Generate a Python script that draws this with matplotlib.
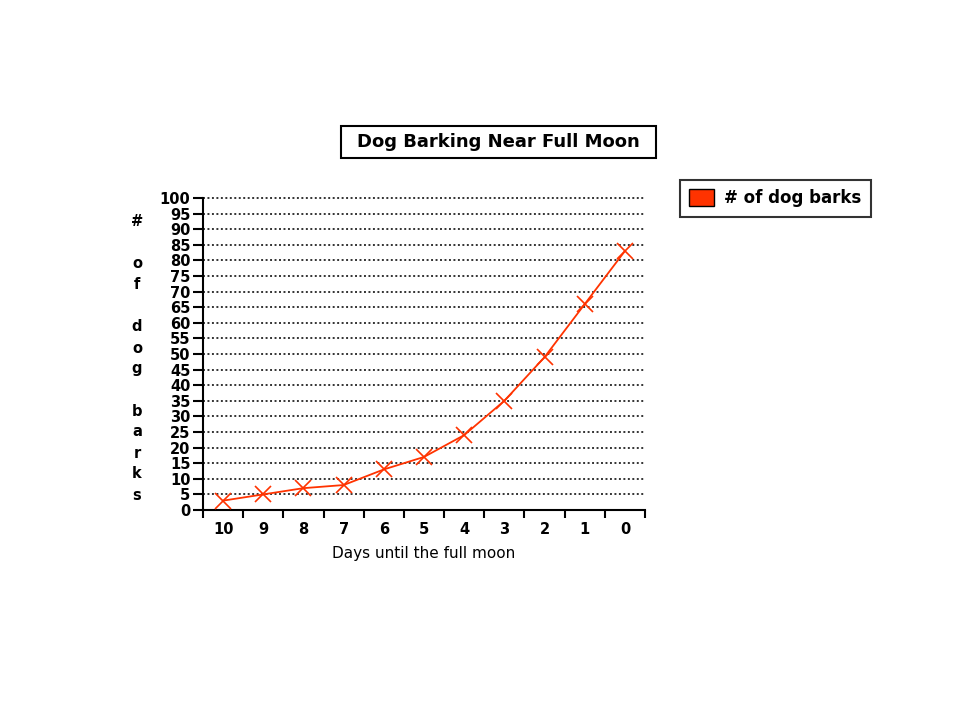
import matplotlib
matplotlib.use("Agg")
import matplotlib.pyplot as plt
from matplotlib.patches import Patch, Rectangle

days = ["10", "9", "8", "7", "6", "5", "4", "3", "2", "1", "0"]
barks = [3, 5, 7, 8, 13, 17, 24, 35, 49, 66, 83]
yticks = list(range(0, 101, 5))

title = "Dog Barking Near Full Moon"
xlabel = "Days until the full moon"
ylabel_chars = ["#", "", "o", "f", "", "d", "o", "g", "", "b", "a", "r", "k", "s"]
series_name = "# of dog barks"

red = "#FF3300"
fontfam = ["DejaVu Sans"]

fig = plt.figure(figsize=(9.6, 7.2), dpi=100)
ax = fig.add_axes([203/960, 1-510/720, 442/960, 312/720])

x = list(range(len(days)))
ax.plot(x, barks, color=red, lw=1.3, marker="x", ms=11, mew=1.2, zorder=3)

ax.set_xlim(-0.5, len(days)-0.5)
ax.set_ylim(0, 100)
ax.set_yticks(yticks)
ax.set_yticklabels([str(v) for v in yticks], fontsize=10.5, fontweight="bold", family=fontfam)
ax.set_xticks([i - 0.5 for i in range(len(days)+1)])
ax.set_xticklabels([])
ax.set_xticks(x, minor=True)
ax.set_xticklabels(days, minor=True, fontsize=10.5, fontweight="bold", family=fontfam)
ax.tick_params(axis="x", which="minor", length=0, pad=9)
ax.tick_params(axis="x", which="major", length=6, width=1.5, direction="out")
ax.tick_params(axis="y", length=7, width=1.5, direction="out", pad=2)

for v in yticks[1:]:
    ax.axhline(v, color="#333333", lw=1.4, ls=(0, (1, 1.3)), zorder=1, clip_on=False)

for s in ["top", "right"]:
    ax.spines[s].set_visible(False)
ax.spines["left"].set_linewidth(1.5)
ax.spines["bottom"].set_linewidth(1.5)

ax.set_xlabel(xlabel, fontsize=11, family=fontfam, labelpad=6)

# vertical stacked y label
for i, ch in enumerate(ylabel_chars):
    if ch:
        fig.text(137/960, 1-(222 + 21*i)/720, ch, ha="center", va="center",
                 fontsize=10.5, fontweight="bold", family=fontfam)

# title with box
fig.patches.append(Rectangle((341/960, 1-158/720), 315/960, 32/720,
                             transform=fig.transFigure, fc="white", ec="black", lw=1.5))
fig.text(498/960, 1-142/720, title, ha="center", va="center", fontsize=13,
         fontweight="bold", family=fontfam)

leg = fig.legend(handles=[Patch(fc=red, ec="black", lw=1, label=series_name)],
                 loc="upper left", bbox_to_anchor=(680/960, 1-180/720), borderaxespad=0,
                 frameon=True, fancybox=False, edgecolor="black",
                 prop={"weight": "bold", "size": 12, "family": fontfam},
                 handlelength=1.5, handleheight=1.2, handletextpad=0.6, borderpad=0.55)
leg.get_frame().set_linewidth(1.5)

fig.savefig("out.png", dpi=100, facecolor="white")
